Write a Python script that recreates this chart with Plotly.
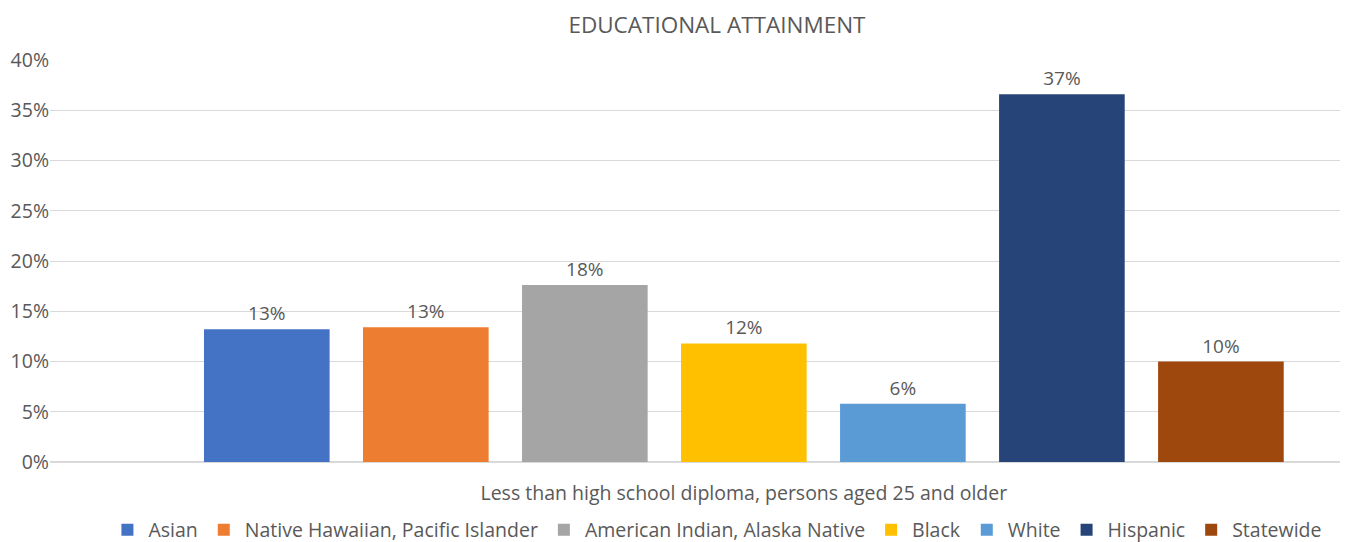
import plotly.graph_objects as go

category = ["Less than high school diploma, persons aged 25 and older"]
series_names = ["Asian", "Native Hawaiian, Pacific Islander", "American Indian, Alaska Native",
                "Black", "White", "Hispanic", "Statewide"]
values = [0.132, 0.134, 0.176, 0.118, 0.058, 0.366, 0.100]
colors = ["#4472C4", "#ED7D31", "#A5A5A5", "#FFC000", "#5B9BD5", "#264478", "#9E480E"]
y_ticks = [0, 0.05, 0.10, 0.15, 0.20, 0.25, 0.30, 0.35, 0.40]

FONT = "Open Sans"
GREY = "#595959"
# page body has an 8px margin, so the figure is drawn 8px smaller and offset
W, H = 1343, 534

fig = go.Figure()
for name, v, c in zip(series_names, values, colors):
    fig.add_trace(go.Bar(
        x=category, y=[v], name=name, marker=dict(color=c, line=dict(width=0)),
        text=[v], texttemplate="%{y:.0%}", textposition="outside",
        textfont=dict(family=FONT, size=19, color=GREY), cliponaxis=False,
    ))

fig.update_layout(
    width=W, height=H,
    margin=dict(l=42, r=11, t=52, b=80, autoexpand=False),
    paper_bgcolor="white", plot_bgcolor="white",
    barmode="group", bargap=0.1, bargroupgap=0.21,
    font=dict(family=FONT, size=19.5, color=GREY),
    title=dict(text="EDUCATIONAL ATTAINMENT", x=0.517, xanchor="center", xref="paper",
               y=1 - 17 / H, yanchor="middle", yref="container",
               font=dict(family=FONT, size=22.5, color=GREY)),
    showlegend=True,
    legend=dict(orientation="h", x=0.517, xanchor="center", xref="paper",
                y=1 - 522 / H, yanchor="middle", yref="container",
                font=dict(family=FONT, size=19.5, color=GREY), itemwidth=32,
                traceorder="normal"),
    xaxis=dict(range=[-0.561, 0.482], showgrid=False, showline=False, ticks="",
               tickfont=dict(family=FONT, size=19.5, color=GREY), ticklabelstandoff=17,
               automargin=False),
    yaxis=dict(range=[0, 0.40], tickvals=y_ticks, tickformat=".0%", showgrid=True,
               gridcolor="#D9D9D9", gridwidth=1, zeroline=True, zerolinecolor="#D9D9D9",
               showline=False, ticks="", tickfont=dict(family=FONT, size=19.5, color=GREY),
               ticklabelstandoff=0, automargin=False),
)

fig.write_html("out.html")
